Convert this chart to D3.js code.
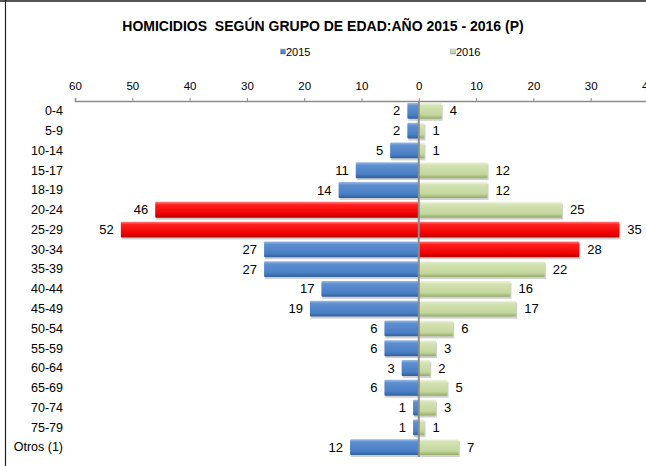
<!DOCTYPE html>
<html>
<head>
<meta charset="utf-8">
<script src="https://cdn.jsdelivr.net/npm/d3@7"></script>
<style>
  body { margin: 0; background: #fff; }
  svg { display: block; font-family: "Liberation Sans", Arial, sans-serif; }
</style>
</head>
<body>
<svg id="chart"></svg>
<script>
// data
const ageGroups = ["0-4", "5-9", "10-14", "15-17", "18-19", "20-24", "25-29", "30-34", "35-39",
  "40-44", "45-49", "50-54", "55-59", "60-64", "65-69", "70-74", "75-79", "Otros (1)"];
const values2015 = [2, 2, 5, 11, 14, 46, 52, 27, 27, 17, 19, 6, 6, 3, 6, 1, 1, 12];
const values2016 = [4, 1, 1, 12, 12, 25, 35, 28, 22, 16, 17, 6, 3, 2, 5, 3, 1, 7];
// groups drawn in red in each series
const highlight2015 = ["20-24", "25-29"];
const highlight2016 = ["25-29", "30-34"];
const axisTicks = [-60, -50, -40, -30, -20, -10, 0, 10, 20, 30, 40];

const width = 646, height = 466;

const svg = d3.select("#chart")
  .attr("width", width)
  .attr("height", height);

// gradients for the bevelled bars
const defs = svg.append("defs");
function addGradient(id, stops) {
  const g = defs.append("linearGradient")
    .attr("id", id)
    .attr("x1", 0).attr("y1", 0).attr("x2", 0).attr("y2", 1);
  stops.forEach(s => g.append("stop").attr("offset", s[0]).attr("stop-color", s[1]));
}
addGradient("gBlue", [[0, "#9dbbe3"], [0.18, "#5d8fd0"], [0.75, "#4a7fc4"], [1, "#2f5f9e"]]);
addGradient("gGreen", [[0, "#eef4e0"], [0.18, "#d3e2b2"], [0.75, "#c4d79d"], [1, "#93ad66"]]);
addGradient("gRed", [[0, "#ff8080"], [0.18, "#ff2020"], [0.75, "#f00000"], [1, "#b00000"]]);

// frame
svg.append("line").attr("x1", 0).attr("x2", width).attr("y1", 1).attr("y2", 1)
  .attr("stroke", "#555").attr("stroke-width", 2);
svg.append("line").attr("x1", 5.5).attr("x2", 5.5).attr("y1", 0).attr("y2", height)
  .attr("stroke", "#222").attr("stroke-width", 1.2);

// title
svg.append("text")
  .attr("x", 323).attr("y", 31)
  .attr("text-anchor", "middle")
  .attr("font-size", "14px")
  .attr("font-weight", "bold")
  .attr("xml:space", "preserve")
  .text("HOMICIDIOS  SEGÚN GRUPO DE EDAD:AÑO 2015 - 2016 (P)");

// legend
const legend = [
  { label: "2015", fill: "url(#gBlue)", x: 280.5 },
  { label: "2016", fill: "url(#gGreen)", x: 450.5 }
];
legend.forEach(l => {
  svg.append("rect").attr("x", l.x).attr("y", 49).attr("width", 5).attr("height", 5)
    .attr("fill", l.fill).attr("stroke", "#888").attr("stroke-width", 0.4);
  svg.append("text").attr("x", l.x + 5.5).attr("y", 56)
    .attr("font-size", "11px").text(l.label);
});

// scales
const x = d3.scaleLinear().domain([-60, 40]).range([75, 648]);
const y = d3.scaleBand().domain(ageGroups).range([101, 457]).paddingInner(0.2).paddingOuter(0.1);

// top axis
const axis = svg.append("g")
  .attr("transform", "translate(0,101)")
  .call(d3.axisTop(x).tickValues(axisTicks).tickSize(3).tickFormat(d => Math.abs(d)));
axis.select(".domain").attr("stroke", "#8c8c8c").attr("stroke-width", 1.5);
axis.selectAll(".tick line").attr("stroke", "#8c8c8c");
axis.selectAll(".tick text")
  .attr("font-size", "11.5px")
  .attr("font-family", "'Liberation Sans', Arial, sans-serif")
  .attr("fill", "#000")
  .attr("y", -11)
  .attr("dy", "0");

// category labels
svg.append("g").selectAll("text")
  .data(ageGroups)
  .join("text")
  .attr("x", 63)
  .attr("y", d => y(d) + y.bandwidth() / 2)
  .attr("dy", "0.35em")
  .attr("text-anchor", "end")
  .attr("font-size", "12.5px")
  .text(d => d);

const rows2015 = ageGroups.map((g, i) => ({ group: g, v: values2015[i], hot: highlight2015.includes(g) }));
const rows2016 = ageGroups.map((g, i) => ({ group: g, v: values2016[i], hot: highlight2016.includes(g) }));

// shadows
const shadows = svg.append("g").attr("fill", "#000").attr("opacity", 0.18);
shadows.selectAll(".s15").data(rows2015).join("rect")
  .attr("x", d => x(-d.v) + 1).attr("y", d => y(d.group) + 2)
  .attr("width", d => x(0) - x(-d.v)).attr("height", y.bandwidth());
shadows.selectAll(".s16").data(rows2016).join("rect")
  .attr("x", x(0) + 1).attr("y", d => y(d.group) + 2)
  .attr("width", d => x(d.v) - x(0)).attr("height", y.bandwidth());

// 2015 bars to the left
svg.append("g").selectAll("rect")
  .data(rows2015)
  .join("rect")
  .attr("x", d => x(-d.v))
  .attr("y", d => y(d.group))
  .attr("width", d => x(0) - x(-d.v))
  .attr("height", y.bandwidth())
  .attr("rx", 1)
  .attr("fill", d => d.hot ? "url(#gRed)" : "url(#gBlue)");

// 2016 bars to the right
svg.append("g").selectAll("rect")
  .data(rows2016)
  .join("rect")
  .attr("x", x(0))
  .attr("y", d => y(d.group))
  .attr("width", d => x(d.v) - x(0))
  .attr("height", y.bandwidth())
  .attr("rx", 1)
  .attr("fill", d => d.hot ? "url(#gRed)" : "url(#gGreen)");

// value labels
svg.append("g").selectAll("text")
  .data(rows2015)
  .join("text")
  .attr("x", d => x(-d.v) - 7)
  .attr("y", d => y(d.group) + y.bandwidth() / 2)
  .attr("dy", "0.35em")
  .attr("text-anchor", "end")
  .attr("font-size", "13px")
  .text(d => d.v);

svg.append("g").selectAll("text")
  .data(rows2016)
  .join("text")
  .attr("x", d => x(d.v) + 8)
  .attr("y", d => y(d.group) + y.bandwidth() / 2)
  .attr("dy", "0.35em")
  .attr("font-size", "13px")
  .text(d => d.v);

// zero line
svg.append("line")
  .attr("x1", x(0)).attr("x2", x(0))
  .attr("y1", 101).attr("y2", 457)
  .attr("stroke", "#8c8c8c").attr("stroke-width", 2);
</script>
</body>
</html>
